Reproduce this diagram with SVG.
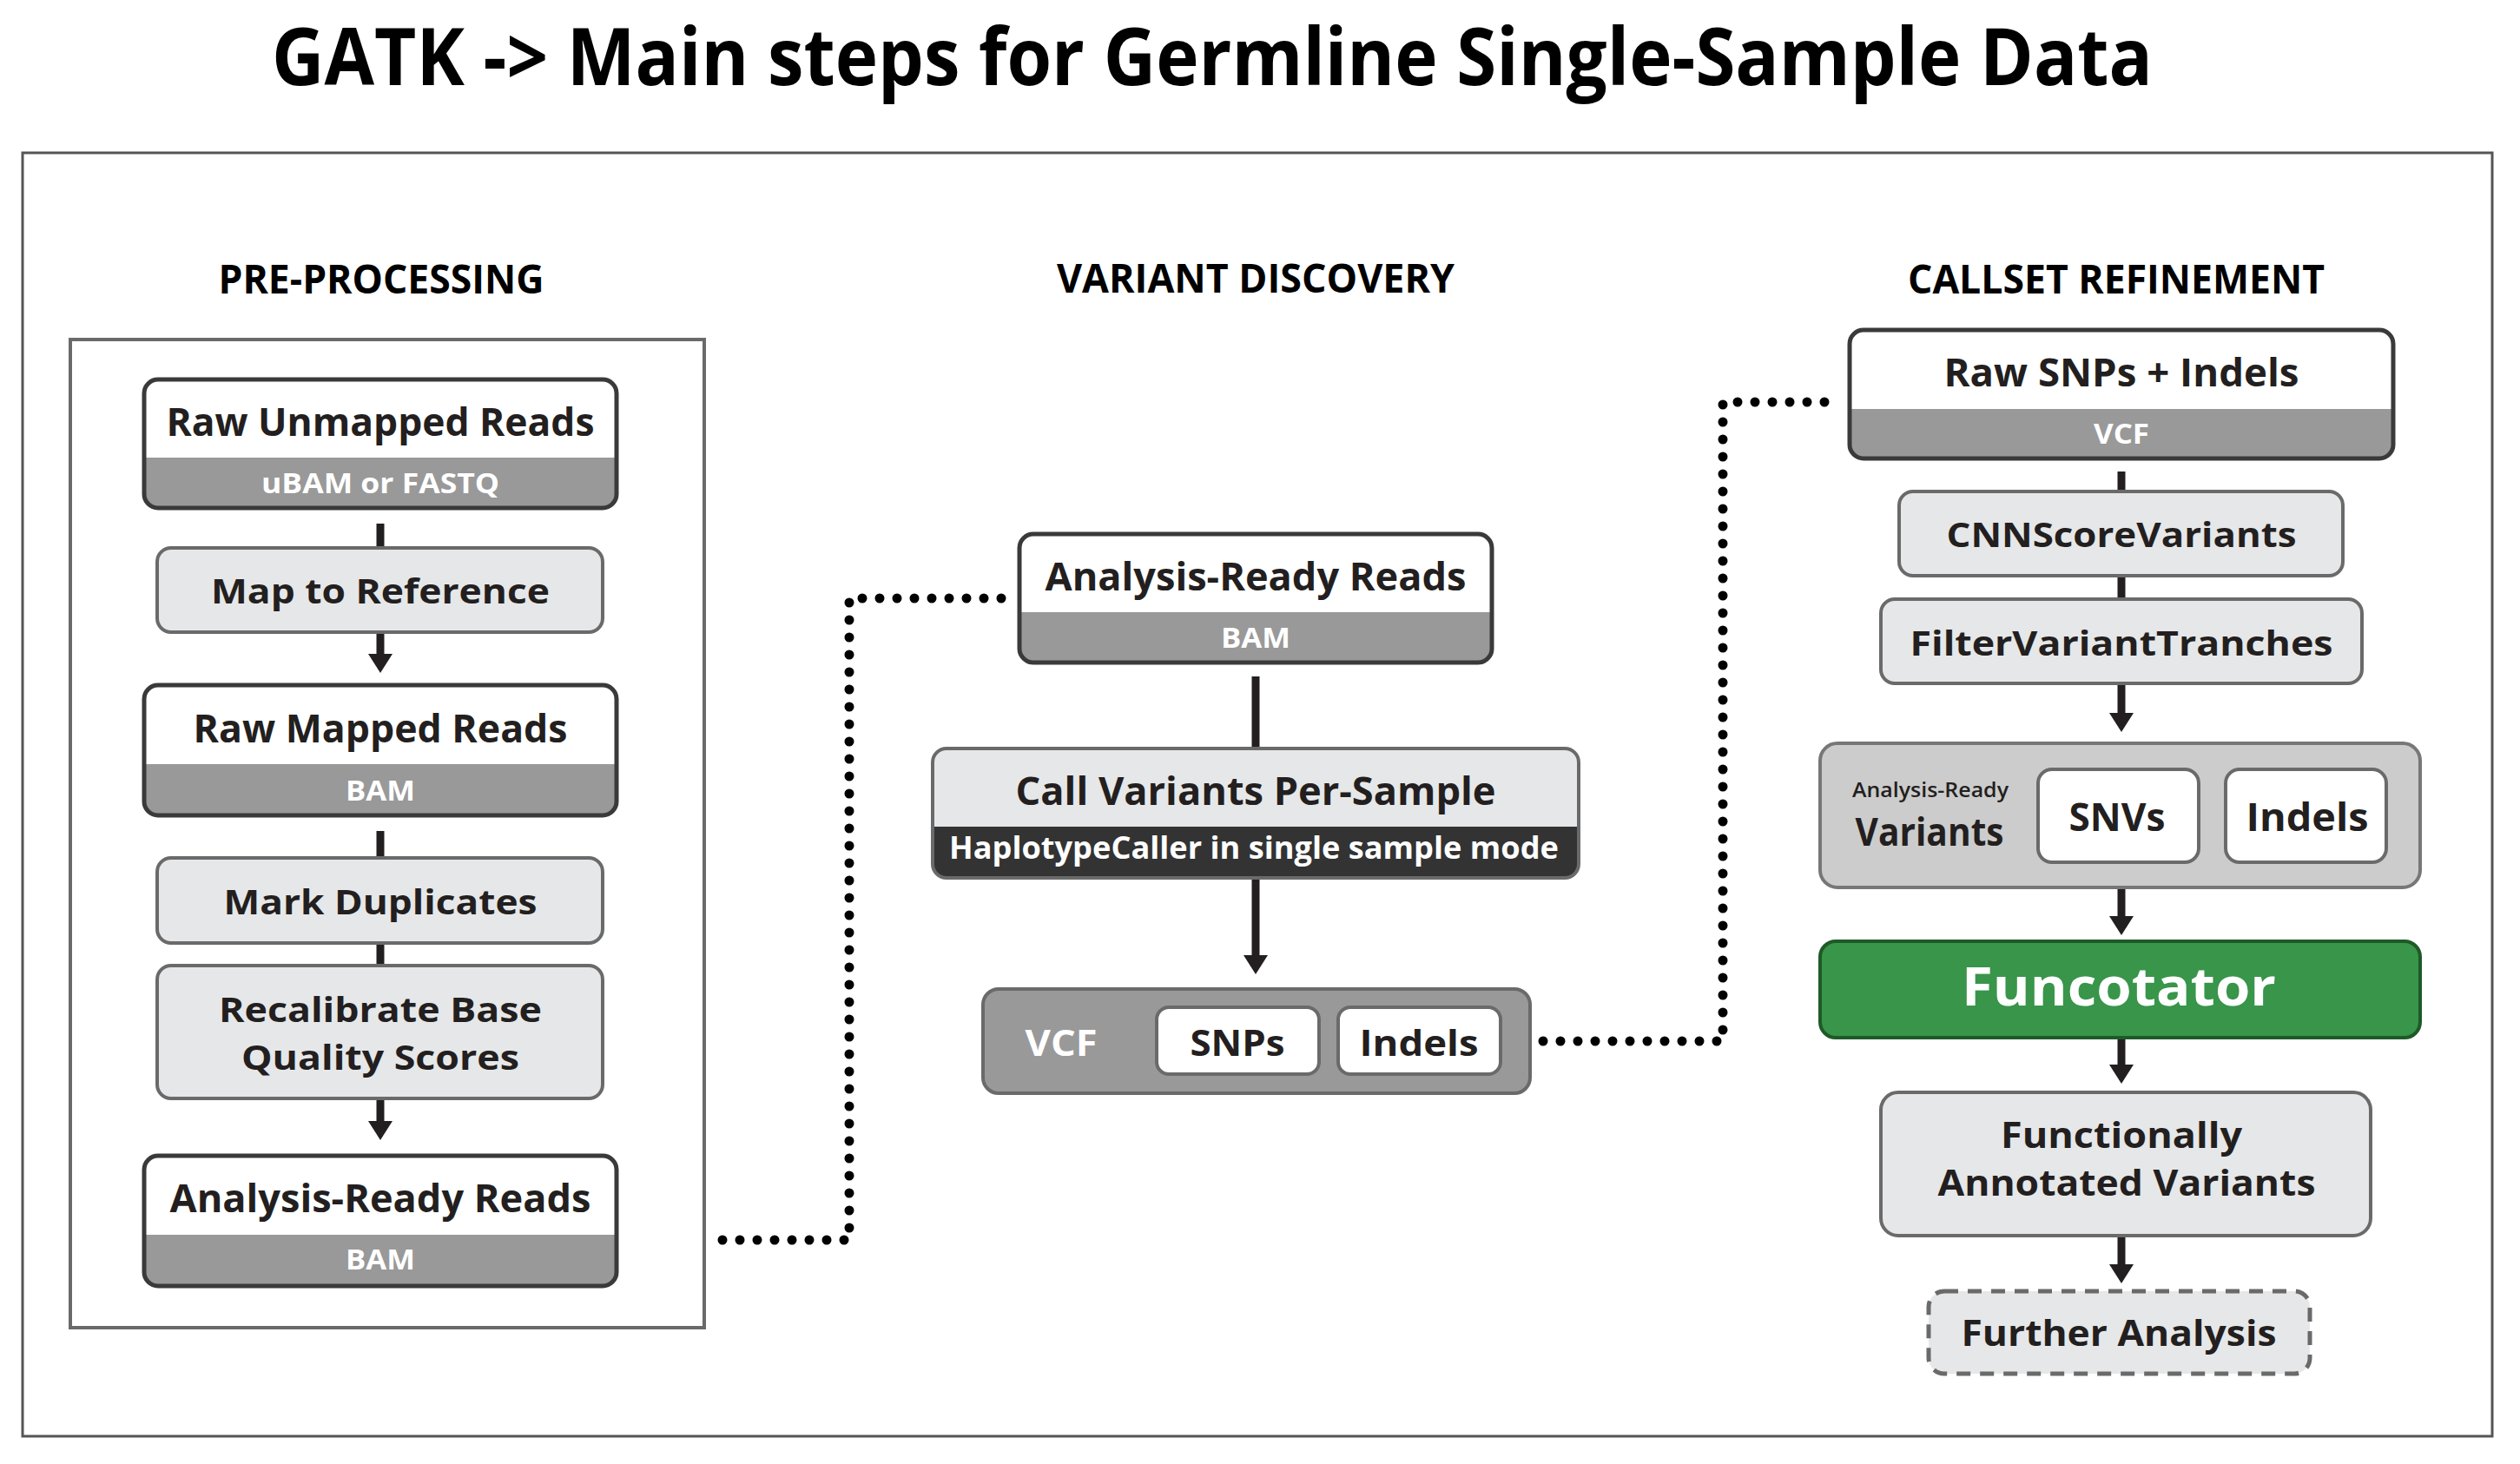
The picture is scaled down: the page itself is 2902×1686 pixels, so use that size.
<svg xmlns="http://www.w3.org/2000/svg" width="2902" height="1686" viewBox="0 0 2902 1686">
<style>
text{font-family:"Open Sans","Noto Sans","DejaVu Sans",sans-serif;font-weight:700;fill:#231f20;text-anchor:middle}
.title{fill:#000;font-size:92px}
.hdr{fill:#000;font-size:46px}
.big{font-size:45px}
.mid{font-size:40px}
.sub{font-size:33px;fill:#fff}
.wt{fill:#fff}
.frame{fill:none;stroke:#555;stroke-width:3}
.pre{fill:none;stroke:#6a6a6a;stroke-width:4}
.band{fill:#999}
.top{fill:#fff}
.bd{fill:none;stroke:#3a3a3a;stroke-width:5}
.gray{fill:#e6e7e8;stroke:#6a6a6a;stroke-width:4}
.cont{fill:#999;stroke:#6a6a6a;stroke-width:4}
.wbox{fill:#fff;stroke:#6a6a6a;stroke-width:4}
.ln{stroke:#231f20;stroke-width:9;fill:none}
.dot{stroke:#000;stroke-width:11;fill:none;stroke-dasharray:0 20;stroke-linecap:round;stroke-linejoin:round}
</style>
<defs>
<marker id="ah" viewBox="0 0 22 28" refX="0" refY="14" markerWidth="22" markerHeight="28" markerUnits="userSpaceOnUse" orient="auto">
<path d="M0,0 L22,14 L0,28 Z" fill="#231f20"/>
</marker>
</defs>
<rect width="2902" height="1686" fill="#fff"/>
<text class="title" x="1396" y="98" textLength="2166" lengthAdjust="spacingAndGlyphs">GATK -&gt; Main steps for Germline Single-Sample Data</text>
<rect class="frame" x="26" y="176" width="2844" height="1478"/>
<text class="hdr" x="439" y="338" textLength="375" lengthAdjust="spacingAndGlyphs">PRE-PROCESSING</text>
<text class="hdr" x="1446" y="337" textLength="458" lengthAdjust="spacingAndGlyphs">VARIANT DISCOVERY</text>
<text class="hdr" x="2437" y="338" textLength="480" lengthAdjust="spacingAndGlyphs">CALLSET REFINEMENT</text>
<rect class="pre" x="81" y="391" width="730" height="1138"/>

<g id="connectors">
<line class="ln" x1="438" y1="603" x2="438" y2="632"/>
<line class="ln" x1="438" y1="728" x2="438" y2="753" marker-end="url(#ah)"/>
<line class="ln" x1="438" y1="957" x2="438" y2="989"/>
<line class="ln" x1="438" y1="1086" x2="438" y2="1113"/>
<line class="ln" x1="438" y1="1265" x2="438" y2="1291" marker-end="url(#ah)"/>
<path class="dot" d="M832,1428 H978 V689 H1155"/>
<line class="ln" x1="1446" y1="779" x2="1446" y2="863"/>
<line class="ln" x1="1446" y1="1011" x2="1446" y2="1100" marker-end="url(#ah)"/>
<path class="dot" d="M1777,1199 H1984 V463 H2106"/>
<line class="ln" x1="2443" y1="543" x2="2443" y2="567"/>
<line class="ln" x1="2443" y1="663" x2="2443" y2="691"/>
<line class="ln" x1="2443" y1="787" x2="2443" y2="821" marker-end="url(#ah)"/>
<line class="ln" x1="2443" y1="1022" x2="2443" y2="1055" marker-end="url(#ah)"/>
<line class="ln" x1="2443" y1="1195" x2="2443" y2="1226" marker-end="url(#ah)"/>
<line class="ln" x1="2443" y1="1423" x2="2443" y2="1456" marker-end="url(#ah)"/>
</g>

<g id="raw-unmapped-reads">
<rect class="band" x="166" y="437" width="544" height="148" rx="16"/>
<path class="top" d="M166,527 V453 Q166,437 182,437 H694 Q710,437 710,453 V527 Z"/>
<rect class="bd" x="166" y="437" width="544" height="148" rx="16"/>
<text class="big" x="438" y="502" textLength="493" lengthAdjust="spacingAndGlyphs">Raw Unmapped Reads</text>
<text class="sub" x="438" y="568" textLength="274" lengthAdjust="spacingAndGlyphs">uBAM or FASTQ</text>
</g>
<g id="map-to-reference">
<rect class="gray" x="181" y="631" width="513" height="97" rx="16"/>
<text class="mid" x="438" y="695" textLength="390" lengthAdjust="spacingAndGlyphs">Map to Reference</text>
</g>
<g id="raw-mapped-reads">
<rect class="band" x="166" y="789" width="544" height="150" rx="16"/>
<path class="top" d="M166,880 V805 Q166,789 182,789 H694 Q710,789 710,805 V880 Z"/>
<rect class="bd" x="166" y="789" width="544" height="150" rx="16"/>
<text class="big" x="438" y="855" textLength="431" lengthAdjust="spacingAndGlyphs">Raw Mapped Reads</text>
<text class="sub" x="438" y="922" textLength="80" lengthAdjust="spacingAndGlyphs">BAM</text>
</g>
<g id="mark-duplicates">
<rect class="gray" x="181" y="988" width="513" height="98" rx="16"/>
<text class="mid" x="438" y="1053" textLength="361" lengthAdjust="spacingAndGlyphs">Mark Duplicates</text>
</g>
<g id="recalibrate">
<rect class="gray" x="181" y="1112" width="513" height="153" rx="16"/>
<text class="mid" x="438" y="1177" textLength="372" lengthAdjust="spacingAndGlyphs">Recalibrate Base</text>
<text class="mid" x="438" y="1232" textLength="320" lengthAdjust="spacingAndGlyphs">Quality Scores</text>
</g>
<g id="analysis-ready-reads-1">
<rect class="band" x="166" y="1331" width="544" height="150" rx="16"/>
<path class="top" d="M166,1422 V1347 Q166,1331 182,1331 H694 Q710,1331 710,1347 V1422 Z"/>
<rect class="bd" x="166" y="1331" width="544" height="150" rx="16"/>
<text class="big" x="438" y="1396" textLength="485" lengthAdjust="spacingAndGlyphs">Analysis-Ready Reads</text>
<text class="sub" x="438" y="1462" textLength="80" lengthAdjust="spacingAndGlyphs">BAM</text>
</g>

<g id="analysis-ready-reads-2">
<rect class="band" x="1174" y="615" width="544" height="148" rx="16"/>
<path class="top" d="M1174,705 V631 Q1174,615 1190,615 H1702 Q1718,615 1718,631 V705 Z"/>
<rect class="bd" x="1174" y="615" width="544" height="148" rx="16"/>
<text class="big" x="1446" y="680" textLength="485" lengthAdjust="spacingAndGlyphs">Analysis-Ready Reads</text>
<text class="sub" x="1446" y="746" textLength="80" lengthAdjust="spacingAndGlyphs">BAM</text>
</g>
<g id="call-variants">
<rect x="1074" y="862" width="744" height="149" rx="16" fill="#333"/>
<path d="M1074,952 V878 Q1074,862 1090,862 H1802 Q1818,862 1818,878 V952 Z" fill="#e6e7e8"/>
<rect x="1074" y="862" width="744" height="149" rx="16" fill="none" stroke="#6a6a6a" stroke-width="4"/>
<text x="1446" y="927" font-size="44" textLength="553" lengthAdjust="spacingAndGlyphs">Call Variants Per-Sample</text>
<text class="wt" x="1444" y="989" font-size="35" textLength="702" lengthAdjust="spacingAndGlyphs">HaplotypeCaller in single sample mode</text>
</g>
<g id="vcf-output">
<rect class="cont" x="1132" y="1139" width="630" height="120" rx="18"/>
<text class="wt" x="1222" y="1216" font-size="42" textLength="83" lengthAdjust="spacingAndGlyphs">VCF</text>
<rect class="wbox" x="1332" y="1160" width="187" height="77" rx="14"/>
<text x="1425" y="1216" font-size="42" textLength="109" lengthAdjust="spacingAndGlyphs">SNPs</text>
<rect class="wbox" x="1541" y="1160" width="187" height="77" rx="14"/>
<text x="1634" y="1216" font-size="42" textLength="137" lengthAdjust="spacingAndGlyphs">Indels</text>
</g>

<g id="raw-snps-indels">
<rect class="band" x="2130" y="380" width="626" height="148" rx="16"/>
<path class="top" d="M2130,471 V396 Q2130,380 2146,380 H2740 Q2756,380 2756,396 V471 Z"/>
<rect class="bd" x="2130" y="380" width="626" height="148" rx="16"/>
<text class="big" x="2443" y="445" textLength="409" lengthAdjust="spacingAndGlyphs">Raw SNPs + Indels</text>
<text class="sub" x="2443" y="511" textLength="64" lengthAdjust="spacingAndGlyphs">VCF</text>
</g>
<g id="cnnscorevariants">
<rect class="gray" x="2187" y="566" width="511" height="97" rx="16"/>
<text class="mid" x="2443" y="630" textLength="403" lengthAdjust="spacingAndGlyphs">CNNScoreVariants</text>
</g>
<g id="filtervarianttranches">
<rect class="gray" x="2166" y="690" width="554" height="97" rx="16"/>
<text class="mid" x="2443" y="755" textLength="487" lengthAdjust="spacingAndGlyphs">FilterVariantTranches</text>
</g>
<g id="analysis-ready-variants">
<rect x="2096" y="856" width="691" height="166" rx="20" fill="#cccccc" stroke="#777" stroke-width="4"/>
<text x="2223" y="918" font-size="23" style="font-weight:600" textLength="180" lengthAdjust="spacingAndGlyphs">Analysis-Ready</text>
<text x="2222" y="974" font-size="44" textLength="171" lengthAdjust="spacingAndGlyphs">Variants</text>
<rect class="wbox" x="2347" y="886" width="185" height="107" rx="16"/>
<text x="2438" y="957" font-size="44" textLength="111" lengthAdjust="spacingAndGlyphs">SNVs</text>
<rect class="wbox" x="2563" y="886" width="185" height="107" rx="16"/>
<text x="2657" y="957" font-size="44" textLength="141" lengthAdjust="spacingAndGlyphs">Indels</text>
</g>
<g id="funcotator">
<rect x="2096" y="1084" width="691" height="111" rx="18" fill="#38954a" stroke="#1e5a28" stroke-width="4"/>
<text class="wt" x="2440" y="1158" font-size="60" textLength="362" lengthAdjust="spacingAndGlyphs">Funcotator</text>
</g>
<g id="functionally-annotated-variants">
<rect class="gray" x="2166" y="1258" width="564" height="165" rx="20"/>
<text x="2443" y="1322" font-size="42" textLength="278" lengthAdjust="spacingAndGlyphs">Functionally</text>
<text x="2449" y="1377" font-size="42" textLength="435" lengthAdjust="spacingAndGlyphs">Annotated Variants</text>
</g>
<g id="further-analysis">
<rect x="2221" y="1487" width="439" height="95" rx="18" fill="#e6e7e8" stroke="#6a6a6a" stroke-width="5" stroke-dasharray="16 11"/>
<text x="2440" y="1550" font-size="42" textLength="363" lengthAdjust="spacingAndGlyphs">Further Analysis</text>
</g>
</svg>
